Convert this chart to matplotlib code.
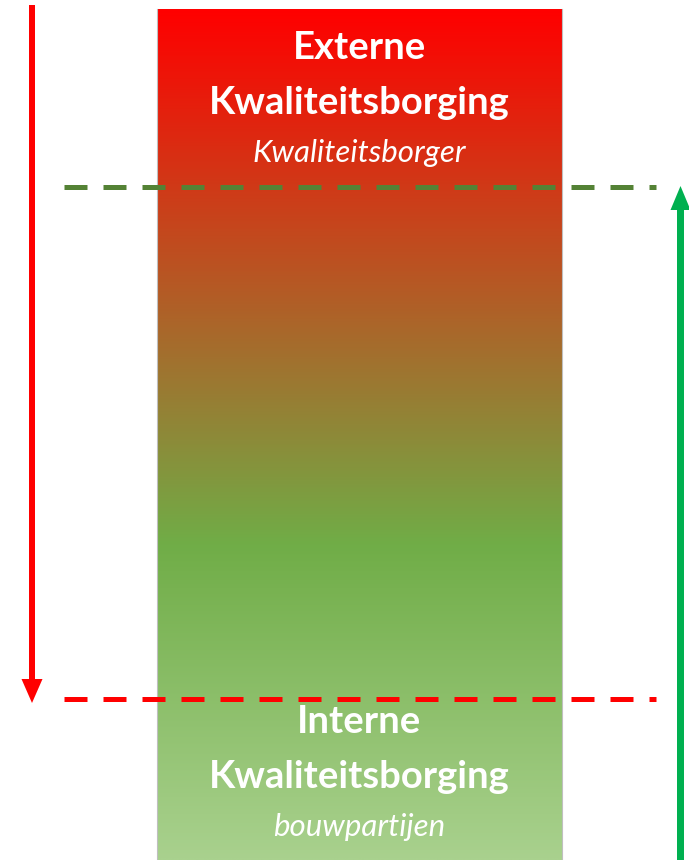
import matplotlib.pyplot as plt
import numpy as np
from matplotlib.colors import LinearSegmentedColormap

# gradient stops of the central column (fraction from top, colour)
grad_pos = [0.0, 0.63, 1.0]
grad_colors = ['#FF0000', '#70AD47', '#A9D18E']

top_title = ['Externe', 'Kwaliteitsborging']
top_sub = 'Kwaliteitsborger'
bottom_title = ['Interne', 'Kwaliteitsborging']
bottom_sub = 'bouwpartijen'

W, H = 689, 860
fig = plt.figure(figsize=(W / 100, H / 100), dpi=100)
ax = fig.add_axes([0, 0, 1, 1])
ax.set_xlim(0, W)
ax.set_ylim(H, 0)
ax.axis('off')

# gradient column
cmap = LinearSegmentedColormap.from_list('kb', list(zip(grad_pos, grad_colors)))
grad = np.linspace(0, 1, 512).reshape(-1, 1)
ax.imshow(grad, cmap=cmap, aspect='auto', extent=[157, 562, 860, 9],
          interpolation='bilinear', zorder=1)
ax.plot([157, 157], [9, 860], color='#BFBFBF', lw=0.8, zorder=1.5)
ax.plot([562, 562], [9, 860], color='#BFBFBF', lw=0.8, zorder=1.5)

# dashed level lines (5px wide, 23px dash, 16px gap)
lw = 5 * 0.72
dash = (23 * 0.72 / lw, 16 * 0.72 / lw)
ax.plot([64, 656], [187, 187], color='#548235', lw=lw, dashes=dash,
        solid_capstyle='butt', dash_capstyle='butt', zorder=3)
ax.plot([64, 656], [699, 699], color='#FF0000', lw=lw, dashes=dash,
        solid_capstyle='butt', dash_capstyle='butt', zorder=3)

# arrows
ax.arrow(32, 5, 0, 698, width=6, head_width=21, head_length=24,
         length_includes_head=True, color='#FF0000', lw=0, zorder=4)
ax.arrow(680.5, 870, 0, -684, width=7, head_width=20, head_length=24,
         length_includes_head=True, color='#00B050', lw=0, zorder=4)

fam = ['Lato', 'DejaVu Sans']
cx = 359.5
ax.text(cx, 48, top_title[0], ha='center', va='center', color='white',
        fontsize=27.5, fontweight='bold', family=fam, zorder=5)
ax.text(cx, 103, top_title[1], ha='center', va='center', color='white',
        fontsize=27.5, fontweight='bold', family=fam, zorder=5)
ax.text(cx, 153, top_sub, ha='center', va='center', color='white',
        fontsize=22.5, style='italic', family=fam, zorder=5)
ax.text(cx, 722, bottom_title[0], ha='center', va='center', color='white',
        fontsize=27.5, fontweight='bold', family=fam, zorder=5)
ax.text(cx, 777, bottom_title[1], ha='center', va='center', color='white',
        fontsize=27.5, fontweight='bold', family=fam, zorder=5)
ax.text(cx, 827, bottom_sub, ha='center', va='center', color='white',
        fontsize=22.5, style='italic', family=fam, zorder=5)

fig.savefig('out.png', dpi=100, facecolor='white')
